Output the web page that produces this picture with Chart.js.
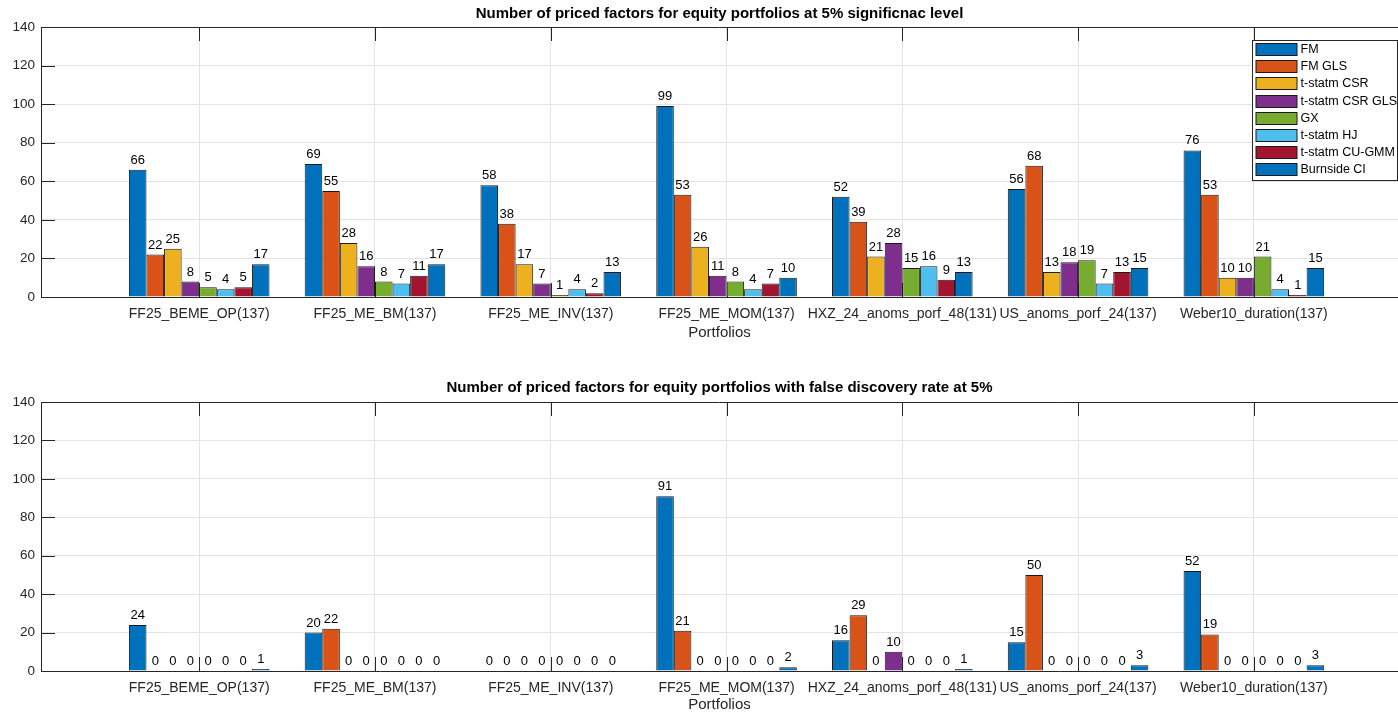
<!DOCTYPE html>
<html>
<head>
<meta charset="utf-8">
<script src="https://cdn.jsdelivr.net/npm/chart.js@4.4.1/dist/chart.umd.min.js"></script>
<style>
  html, body { margin: 0; padding: 0; background: #fff; overflow: hidden; }
  .panel { position: relative; width: 1398px; height: 356px; }
</style>
</head>
<body>
<div class="panel"><canvas id="sigChart"></canvas></div>
<div class="panel"><canvas id="fdrChart"></canvas></div>
<script>
// categories (x axis)
var portfolios = ['FF25_BEME_OP(137)', 'FF25_ME_BM(137)', 'FF25_ME_INV(137)', 'FF25_ME_MOM(137)',
  'HXZ_24_anoms_porf_48(131)', 'US_anoms_porf_24(137)', 'Weber10_duration(137)'];
var methods = ['FM', 'FM GLS', 't-statm CSR', 't-statm CSR GLS', 'GX', 't-statm HJ', 't-statm CU-GMM', 'Burnside CI'];
var colors = ['#0072BD', '#D95319', '#EDB120', '#7E2F8E', '#77AC30', '#4DBEEE', '#A2142F', '#0072BD'];
var yTicks = [0, 20, 40, 60, 80, 100, 120, 140];

// top panel: 5% significance level
var fmSig       = [66, 69, 58, 99, 52, 56, 76];
var fmGlsSig    = [22, 55, 38, 53, 39, 68, 53];
var csrSig      = [25, 28, 17, 26, 21, 13, 10];
var csrGlsSig   = [8, 16, 7, 11, 28, 18, 10];
var gxSig       = [5, 8, 1, 8, 15, 19, 21];
var hjSig       = [4, 7, 4, 4, 16, 7, 4];
var cuGmmSig    = [5, 11, 2, 7, 9, 13, 1];
var burnsideSig = [17, 17, 13, 10, 13, 15, 15];

// bottom panel: false discovery rate at 5%
var fmFdr       = [24, 20, 0, 91, 16, 15, 52];
var fmGlsFdr    = [0, 22, 0, 21, 29, 50, 19];
var csrFdr      = [0, 0, 0, 0, 0, 0, 0];
var csrGlsFdr   = [0, 0, 0, 0, 10, 0, 0];
var gxFdr       = [0, 0, 0, 0, 0, 0, 0];
var hjFdr       = [0, 0, 0, 0, 0, 0, 0];
var cuGmmFdr    = [0, 0, 0, 0, 0, 0, 0];
var burnsideFdr = [1, 0, 0, 2, 1, 3, 3];

var FONT = "'Liberation Sans', Arial, Helvetica, sans-serif";
var AXIS = '#262626';
var GRID = '#e3e3e3';

Chart.defaults.font.family = FONT;
Chart.defaults.color = AXIS;

// matlab-ish box: top line + inward tick marks
var frame = {
  id: 'frame',
  beforeDatasetsDraw: function(chart) {
    var ctx = chart.ctx, a = chart.chartArea, x = chart.scales.x, y = chart.scales.y;
    ctx.save();
    ctx.strokeStyle = AXIS;
    ctx.lineWidth = 1;
    ctx.beginPath();
    ctx.moveTo(a.left, a.top + 0.5); ctx.lineTo(a.right, a.top + 0.5);
    y.ticks.forEach(function(t) {
      var py = Math.round(y.getPixelForValue(t.value)) + 0.5;
      ctx.moveTo(a.left, py); ctx.lineTo(a.left + 14, py);
    });
    x.ticks.forEach(function(t) {
      var px = Math.round(x.getPixelForValue(t.value)) + 0.5;
      ctx.moveTo(px, a.top); ctx.lineTo(px, a.top + 14);
      ctx.moveTo(px, a.bottom); ctx.lineTo(px, a.bottom - 14);
    });
    ctx.stroke();
    ctx.restore();
  }
};

// numbers on top of the bars
var barValues = {
  id: 'barValues',
  afterDatasetsDraw: function(chart) {
    var ctx = chart.ctx;
    ctx.save();
    ctx.font = '13px ' + FONT;
    ctx.fillStyle = '#000';
    ctx.textAlign = 'center';
    ctx.textBaseline = 'alphabetic';
    chart.data.datasets.forEach(function(ds, i) {
      chart.getDatasetMeta(i).data.forEach(function(bar, j) {
        ctx.fillText(String(ds.data[j].y), bar.x, bar.y - 6);
      });
    });
    ctx.restore();
  }
};

// legend box inside the axes, top right
var boxLegend = {
  id: 'boxLegend',
  afterDraw: function(chart) {
    if (!chart.options.plugins.boxLegend || !chart.options.plugins.boxLegend.show) return;
    var ctx = chart.ctx, a = chart.chartArea;
    var left = 1252.5, top = a.top + 13.5, w = 145, h = 140;
    ctx.save();
    ctx.fillStyle = '#fff';
    ctx.fillRect(left, top, w, h);
    ctx.strokeStyle = AXIS;
    ctx.lineWidth = 1;
    ctx.strokeRect(left, top, w, h);
    ctx.font = '12.5px ' + FONT;
    ctx.textBaseline = 'middle';
    ctx.textAlign = 'left';
    chart.data.datasets.forEach(function(ds, i) {
      var cy = a.top + 22 + i * 17.2;
      ctx.fillStyle = ds.backgroundColor;
      ctx.fillRect(left + 3.5, Math.round(cy - 6) + 0.5, 41, 12);
      ctx.strokeStyle = '#1a1a1a';
      ctx.strokeRect(left + 3.5, Math.round(cy - 6) + 0.5, 41, 12);
      ctx.fillStyle = '#000';
      ctx.fillText(ds.label, left + 48, cy + 0.5);
    });
    ctx.restore();
  }
};

function makeDatasets(series) {
  return series.map(function(vals, i) {
    return {
      label: methods[i],
      data: vals.map(function(v, j) { return { x: j + 1, y: v }; }),
      backgroundColor: colors[i],
      borderColor: '#1a1a1a',
      borderWidth: 1,
      categoryPercentage: 0.8,
      barPercentage: 1
    };
  });
}

function makeChart(id, title, series, cfg) {
  return new Chart(document.getElementById(id), {
    type: 'bar',
    data: { datasets: makeDatasets(series) },
    options: {
      responsive: true,
      maintainAspectRatio: false,
      animation: false,
      devicePixelRatio: 1,
      layout: { padding: { left: 6.5, right: 0, top: 0, bottom: 0 } },
      plugins: {
        legend: { display: false },
        tooltip: { enabled: false },
        title: {
          display: true, text: title, fullSize: false, color: '#000',
          font: { size: 15, weight: 'bold', family: FONT },
          padding: { top: cfg.titleTop, bottom: cfg.titleBottom }
        },
        boxLegend: { show: cfg.legend }
      },
      scales: {
        x: {
          type: 'linear', min: 0.1, max: 7.82, offset: false,
          afterBuildTicks: function(scale) {
            scale.ticks = portfolios.map(function(p, i) { return { value: i + 1 }; });
          },
          ticks: {
            autoSkip: false, maxRotation: 0, padding: 8.5, color: AXIS,
            font: { size: 14, family: FONT },
            callback: function(v) { return portfolios[v - 1] || ''; }
          },
          grid: { color: GRID, drawTicks: false, offset: false },
          border: { color: AXIS },
          title: {
            display: true, text: 'Portfolios', color: AXIS,
            font: { size: 15, family: FONT },
            padding: { top: cfg.xTitleTop, bottom: cfg.xTitleBottom }
          }
        },
        y: {
          min: 0, max: 140,
          afterBuildTicks: function(scale) {
            scale.ticks = yTicks.map(function(v) { return { value: v }; });
          },
          ticks: { padding: 6, color: AXIS, font: { size: 13.5, family: FONT } },
          grid: { color: GRID, drawTicks: false },
          border: { color: AXIS }
        }
      }
    },
    plugins: [frame, barValues, boxLegend]
  });
}

makeChart('sigChart', 'Number of priced factors for equity portfolios at 5% significnac level',
  [fmSig, fmGlsSig, csrSig, csrGlsSig, gxSig, hjSig, cuGmmSig, burnsideSig],
  { legend: true, titleTop: 5, titleBottom: 4, xTitleTop: -7.3, xTitleBottom: 14.5 });

makeChart('fdrChart', 'Number of priced factors for equity portfolios with false discovery rate at 5%',
  [fmFdr, fmGlsFdr, csrFdr, csrGlsFdr, gxFdr, hjFdr, cuGmmFdr, burnsideFdr],
  { legend: false, titleTop: 23, titleBottom: 5, xTitleTop: -8.8, xTitleBottom: -2 });
</script>
</body>
</html>
